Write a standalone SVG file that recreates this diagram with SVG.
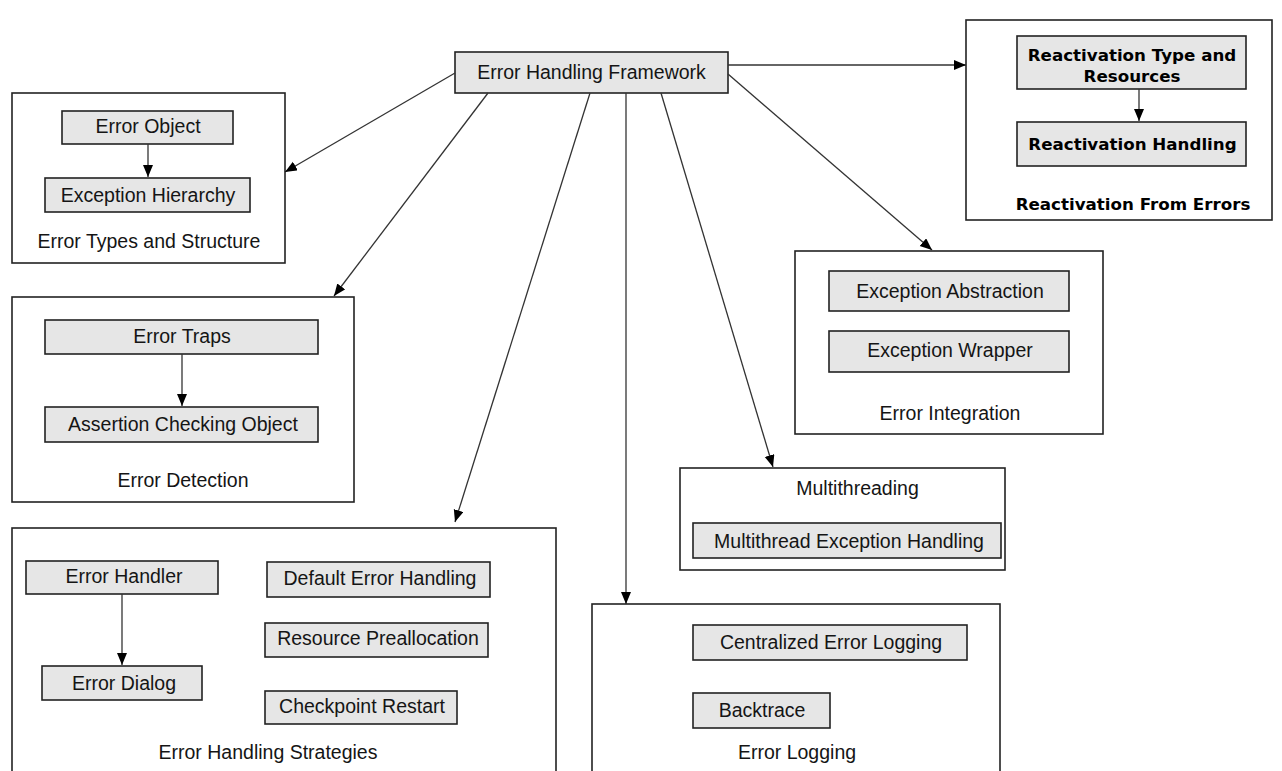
<svg xmlns="http://www.w3.org/2000/svg" width="1282" height="771" viewBox="0 0 1282 771">
  <defs>
    <marker id="arrow" markerUnits="userSpaceOnUse" markerWidth="13" markerHeight="11" refX="12" refY="5" orient="auto">
      <path d="M0,0 L12,5 L0,10 Z" fill="#000"/>
    </marker>
    <style>
      .frame { fill: #fff; stroke: #222; stroke-width: 1.6; }
      .item { fill: #e6e6e6; stroke: #222; stroke-width: 1.6; }
      .t { font-family: "Liberation Sans", Arial, sans-serif; font-size: 19.5px; fill: #151515; text-anchor: middle; }
      .b { font-family: "DejaVu Sans", Verdana, sans-serif; font-weight: bold; font-size: 16.7px; fill: #000; text-anchor: middle; }
      .link { stroke: #333; stroke-width: 1.3; fill: none; marker-end: url(#arrow); }
    </style>
  </defs>
  <rect width="1282" height="771" fill="#fff"/>

  <!-- root -->
  <g id="framework">
    <rect class="item" x="455" y="52" width="273" height="41"/>
    <text class="t" x="591.5" y="79">Error Handling Framework</text>
  </g>

  <g id="error-types">
    <rect class="frame" x="12" y="93" width="273" height="170"/>
    <rect class="item" x="62" y="111" width="171" height="33"/>
    <text class="t" x="148" y="133">Error Object</text>
    <rect class="item" x="45" y="178" width="205" height="34"/>
    <text class="t" x="148" y="202">Exception Hierarchy</text>
    <text class="t" x="149" y="248">Error Types and Structure</text>
  </g>

  <g id="error-detection">
    <rect class="frame" x="12" y="297" width="342" height="205"/>
    <rect class="item" x="45" y="320" width="273" height="34"/>
    <text class="t" x="182" y="343">Error Traps</text>
    <rect class="item" x="45" y="407" width="273" height="35"/>
    <text class="t" x="183" y="431">Assertion Checking Object</text>
    <text class="t" x="183" y="487">Error Detection</text>
  </g>

  <g id="error-strategies">
    <rect class="frame" x="12" y="528" width="544" height="260"/>
    <rect class="item" x="26" y="561" width="192" height="33"/>
    <text class="t" x="124" y="583">Error Handler</text>
    <rect class="item" x="42" y="666" width="160" height="34"/>
    <text class="t" x="124" y="690">Error Dialog</text>
    <rect class="item" x="267" y="562" width="223" height="35"/>
    <text class="t" x="380" y="585">Default Error Handling</text>
    <rect class="item" x="265" y="623" width="223" height="34"/>
    <text class="t" x="378" y="645">Resource Preallocation</text>
    <rect class="item" x="265" y="691" width="192" height="33"/>
    <text class="t" x="362" y="713">Checkpoint Restart</text>
    <text class="t" x="268" y="759">Error Handling Strategies</text>
  </g>

  <g id="error-logging">
    <rect class="frame" x="592" y="604" width="408" height="190"/>
    <rect class="item" x="693" y="625" width="274" height="35"/>
    <text class="t" x="831" y="649">Centralized Error Logging</text>
    <rect class="item" x="693" y="693" width="137" height="35"/>
    <text class="t" x="762" y="717">Backtrace</text>
    <text class="t" x="797" y="759">Error Logging</text>
  </g>

  <g id="multithreading">
    <rect class="frame" x="680" y="468" width="325" height="102"/>
    <text class="t" x="857.5" y="495">Multithreading</text>
    <rect class="item" x="693" y="523" width="308" height="35"/>
    <text class="t" x="849" y="548">Multithread Exception Handling</text>
  </g>

  <g id="error-integration">
    <rect class="frame" x="795" y="251" width="308" height="183"/>
    <rect class="item" x="829" y="271" width="240" height="40"/>
    <text class="t" x="950" y="298">Exception Abstraction</text>
    <rect class="item" x="829" y="331" width="240" height="41"/>
    <text class="t" x="950" y="357">Exception Wrapper</text>
    <text class="t" x="950" y="420">Error Integration</text>
  </g>

  <g id="reactivation">
    <rect class="frame" x="966" y="20" width="306" height="200"/>
    <rect class="item" x="1017" y="36" width="229" height="53"/>
    <text class="b" x="1132" y="61">Reactivation Type and</text>
    <text class="b" x="1132" y="82">Resources</text>
    <rect class="item" x="1017" y="122" width="229" height="44"/>
    <text class="b" x="1132.5" y="150">Reactivation Handling</text>
    <text class="b" x="1133" y="210">Reactivation From Errors</text>
  </g>

  <g id="connectors">
    <line class="link" x1="455" y1="73" x2="285" y2="172"/>
    <line class="link" x1="488" y1="93" x2="334" y2="296"/>
    <line class="link" x1="590" y1="93" x2="455" y2="522"/>
    <line class="link" x1="626" y1="93" x2="626" y2="604"/>
    <line class="link" x1="661" y1="93" x2="773" y2="467"/>
    <line class="link" x1="728" y1="74" x2="932" y2="250"/>
    <line class="link" x1="728" y1="65" x2="966" y2="65"/>
    <line class="link" x1="148" y1="144" x2="148" y2="177"/>
    <line class="link" x1="182" y1="354" x2="182" y2="406"/>
    <line class="link" x1="122" y1="594" x2="122" y2="665"/>
    <line class="link" x1="1139" y1="89" x2="1139" y2="121"/>
  </g>
</svg>
